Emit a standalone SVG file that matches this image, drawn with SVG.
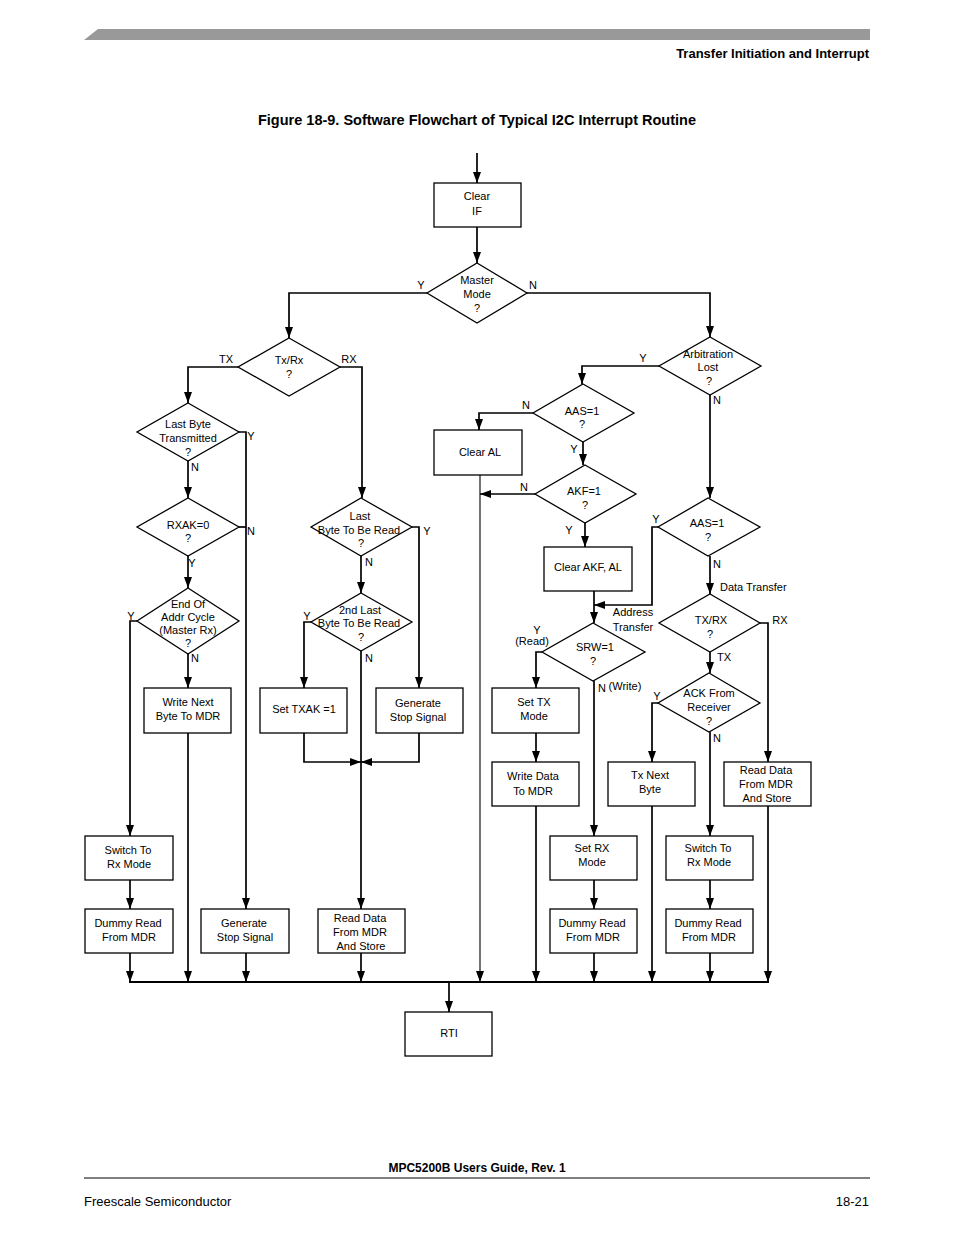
<svg xmlns="http://www.w3.org/2000/svg" width="954" height="1235" viewBox="0 0 954 1235">
<style>
.b{fill:#fff;stroke:#000;stroke-width:1.3}
.c{fill:none;stroke:#000;stroke-width:1.7}
text{font-family:"Liberation Sans",Arial,sans-serif;font-size:11px;fill:#000}
.t{text-anchor:middle}
.h{font-weight:bold;font-size:14.5px}
.hb{font-weight:bold;font-size:13px}
.f{font-size:13px}
</style>
<defs>
<marker id="a" markerWidth="12" markerHeight="8" refX="11" refY="4" orient="auto" markerUnits="userSpaceOnUse"><path d="M0,0 L11,4 L0,8 Z" fill="#000"/></marker>
</defs>
<rect width="954" height="1235" fill="#fff"/>
<polygon points="84,40 98,29 870,29 870,40" fill="#999"/>
<text x="869" y="58" class="hb" text-anchor="end">Transfer Initiation and Interrupt</text>
<text x="477" y="125" class="h t">Figure 18-9. Software Flowchart of Typical I2C Interrupt Routine</text>
<line x1="84" y1="1178" x2="870" y2="1178" stroke="#000" stroke-width="1"/>
<text x="477" y="1172" class="t" style="font-weight:bold;font-size:12px">MPC5200B Users Guide, Rev. 1</text>
<text x="84" y="1206" class="f">Freescale Semiconductor</text>
<text x="869" y="1206" class="f" text-anchor="end">18-21</text>

<g id="connectors">
<path class="c" d="M477,153 V183" marker-end="url(#a)"/>
<path class="c" d="M477,227 V263" marker-end="url(#a)"/>
<path class="c" d="M427,293 H289 V338" marker-end="url(#a)"/>
<path class="c" d="M527,293 H710 V337" marker-end="url(#a)"/>
<path class="c" d="M238,367 H188 V403" marker-end="url(#a)"/>
<path class="c" d="M239,432 H246 V909" marker-end="url(#a)"/>
<path class="c" d="M239,527 H246"/>
<path class="c" d="M188,461 V498" marker-end="url(#a)"/>
<path class="c" d="M188,556 V588" marker-end="url(#a)"/>
<path class="c" d="M137,621 H130 V836" marker-end="url(#a)"/>
<path class="c" d="M188,654 V688" marker-end="url(#a)"/>
<path class="c" d="M188,733 V982" marker-end="url(#a)"/>
<path class="c" d="M130,880 V909" marker-end="url(#a)"/>
<path class="c" d="M130,953 V982" marker-end="url(#a)"/>
<path class="c" d="M246,953 V982" marker-end="url(#a)"/>
<path class="c" d="M340,367 H362 V498" marker-end="url(#a)"/>
<path class="c" d="M412,527 H419 V688" marker-end="url(#a)"/>
<path class="c" d="M361,556 V593" marker-end="url(#a)"/>
<path class="c" d="M311,622 H304 V688" marker-end="url(#a)"/>
<path class="c" d="M361,651 V909" marker-end="url(#a)"/>
<path class="c" d="M304,733 V762 H361" marker-end="url(#a)"/>
<path class="c" d="M419,733 V762 H361" marker-end="url(#a)"/>
<path class="c" d="M361,953 V982" marker-end="url(#a)"/>
<path class="c" d="M659,366 H582 V384" marker-end="url(#a)"/>
<path class="c" d="M710,395 V498" marker-end="url(#a)"/>
<path class="c" d="M533,413 H479 V430" marker-end="url(#a)"/>
<path class="c" d="M583,442 V465" marker-end="url(#a)"/>
<path class="c" d="M480,475 V982" style="stroke-width:1.1" marker-end="url(#a)"/>
<path class="c" d="M535,494 H480" marker-end="url(#a)"/>
<path class="c" d="M585,523 V547" marker-end="url(#a)"/>
<path class="c" d="M594,591 V623" marker-end="url(#a)"/>
<path class="c" d="M658,527 H652 V605 H594" marker-end="url(#a)"/>
<path class="c" d="M710,556 V594" marker-end="url(#a)"/>
<path class="c" d="M542,652 H536 V688" marker-end="url(#a)"/>
<path class="c" d="M594,681 V836" marker-end="url(#a)"/>
<path class="c" d="M536,733 V762" marker-end="url(#a)"/>
<path class="c" d="M536,806 V982" marker-end="url(#a)"/>
<path class="c" d="M594,880 V909" marker-end="url(#a)"/>
<path class="c" d="M594,953 V982" marker-end="url(#a)"/>
<path class="c" d="M760,623 H768 V762" marker-end="url(#a)"/>
<path class="c" d="M710,652 V673" marker-end="url(#a)"/>
<path class="c" d="M658,703 H652 V762" marker-end="url(#a)"/>
<path class="c" d="M710,732 V836" marker-end="url(#a)"/>
<path class="c" d="M652,806 V982" marker-end="url(#a)"/>
<path class="c" d="M710,880 V909" marker-end="url(#a)"/>
<path class="c" d="M710,953 V982" marker-end="url(#a)"/>
<path class="c" d="M768,806 V982" marker-end="url(#a)"/>
<path class="c" d="M129,982 H769" style="stroke-width:2.2"/>
<path class="c" d="M449,982 V1012" marker-end="url(#a)"/>
</g>

<g id="labels">
<text x="421" y="289" class="t">Y</text><text x="533" y="289" class="t">N</text>
<text x="226" y="363" class="t">TX</text><text x="349" y="363" class="t">RX</text>
<text x="251" y="440" class="t">Y</text><text x="195" y="471" class="t">N</text>
<text x="251" y="535" class="t">N</text><text x="192" y="567" class="t">Y</text>
<text x="131" y="620" class="t">Y</text><text x="195" y="662" class="t">N</text>
<text x="427" y="535" class="t">Y</text><text x="369" y="566" class="t">N</text>
<text x="307" y="620" class="t">Y</text><text x="369" y="662" class="t">N</text>
<text x="643" y="362" class="t">Y</text><text x="717" y="404" class="t">N</text>
<text x="526" y="409" class="t">N</text><text x="574" y="453" class="t">Y</text>
<text x="524" y="491" class="t">N</text><text x="569" y="534" class="t">Y</text>
<text x="656" y="523" class="t">Y</text><text x="717" y="568" class="t">N</text>
<text x="720" y="591">Data Transfer</text>
<text x="633" y="616" class="t">Address</text><text x="633" y="631" class="t">Transfer</text>
<text x="780" y="624" class="t">RX</text><text x="724" y="661" class="t">TX</text>
<text x="537" y="634" class="t">Y</text><text x="532" y="645" class="t">(Read)</text>
<text x="602" y="692" class="t">N</text><text x="625" y="690" class="t">(Write)</text>
<text x="657" y="700" class="t">Y</text><text x="717" y="742" class="t">N</text>
</g>

<g id="clearIF"><rect class="b" x="434" y="183" width="87" height="44"/><text x="477" y="200" class="t">Clear</text><text x="477" y="215" class="t">IF</text></g>
<g id="masterMode"><polygon class="b" points="477,263 527,293 477,323 427,293"/><text x="477" y="284" class="t">Master</text><text x="477" y="298" class="t">Mode</text><text x="477" y="312" class="t">?</text></g>
<g id="txrx1"><polygon class="b" points="289,338 340,367 289,396 238,367"/><text x="289" y="364" class="t">Tx/Rx</text><text x="289" y="378" class="t">?</text></g>
<g id="lastByteTx"><polygon class="b" points="188,403 239,432 188,461 137,432"/><text x="188" y="428" class="t">Last Byte</text><text x="188" y="442" class="t">Transmitted</text><text x="188" y="456" class="t">?</text></g>
<g id="rxak"><polygon class="b" points="188,498 239,527 188,556 137,527"/><text x="188" y="529" class="t">RXAK=0</text><text x="188" y="542" class="t">?</text></g>
<g id="endOf"><polygon class="b" points="188,588 239,621 188,654 137,621"/><text x="188" y="608" class="t">End Of</text><text x="188" y="621" class="t">Addr Cycle</text><text x="188" y="634" class="t">(Master Rx)</text><text x="188" y="647" class="t">?</text></g>
<g id="writeNext"><rect class="b" x="144" y="688" width="87" height="45"/><text x="188" y="706" class="t">Write Next</text><text x="188" y="720" class="t">Byte To MDR</text></g>
<g id="switchRx1"><rect class="b" x="85" y="836" width="88" height="44"/><text x="128" y="854" class="t">Switch To</text><text x="129" y="868" class="t">Rx Mode</text></g>
<g id="dummy1"><rect class="b" x="85" y="909" width="88" height="44"/><text x="128" y="927" class="t">Dummy Read</text><text x="129" y="941" class="t">From MDR</text></g>
<g id="genStop1"><rect class="b" x="201" y="909" width="88" height="44"/><text x="244" y="927" class="t">Generate</text><text x="245" y="941" class="t">Stop Signal</text></g>
<g id="lastRead"><polygon class="b" points="361,498 412,527 361,556 311,527"/><text x="360" y="520" class="t">Last</text><text x="359" y="534" class="t">Byte To Be Read</text><text x="361" y="547" class="t">?</text></g>
<g id="secondLast"><polygon class="b" points="361,593 412,622 361,651 311,622"/><text x="360" y="614" class="t">2nd Last</text><text x="359" y="627" class="t">Byte To Be Read</text><text x="361" y="641" class="t">?</text></g>
<g id="setTxak"><rect class="b" x="260" y="688" width="87" height="45"/><text x="304" y="713" class="t">Set TXAK =1</text></g>
<g id="genStop2"><rect class="b" x="376" y="688" width="87" height="45"/><text x="418" y="707" class="t">Generate</text><text x="418" y="721" class="t">Stop Signal</text></g>
<g id="readData1"><rect class="b" x="318" y="909" width="87" height="44"/><text x="360" y="922" class="t">Read Data</text><text x="360" y="936" class="t">From MDR</text><text x="361" y="950" class="t">And Store</text></g>
<g id="arbLost"><polygon class="b" points="710,337 761,366 710,395 659,366"/><text x="708" y="358" class="t">Arbitration</text><text x="708" y="371" class="t">Lost</text><text x="709" y="385" class="t">?</text></g>
<g id="aas1"><polygon class="b" points="583,384 634,413 583,442 533,413"/><text x="582" y="415" class="t">AAS=1</text><text x="582" y="428" class="t">?</text></g>
<g id="clearAL"><rect class="b" x="434" y="430" width="88" height="45"/><text x="480" y="456" class="t">Clear AL</text></g>
<g id="akf"><polygon class="b" points="585,465 636,494 585,523 535,494"/><text x="584" y="495" class="t">AKF=1</text><text x="585" y="509" class="t">?</text></g>
<g id="clearAKF"><rect class="b" x="544" y="547" width="88" height="44"/><text x="588" y="571" class="t">Clear AKF, AL</text></g>
<g id="aas2"><polygon class="b" points="708,498 760,527 708,556 658,527"/><text x="707" y="527" class="t">AAS=1</text><text x="708" y="541" class="t">?</text></g>
<g id="srw"><polygon class="b" points="593,623 645,652 593,681 542,652"/><text x="595" y="651" class="t">SRW=1</text><text x="593" y="665" class="t">?</text></g>
<g id="txrx2"><polygon class="b" points="710,594 760,623 710,652 659,623"/><text x="711" y="624" class="t">TX/RX</text><text x="710" y="638" class="t">?</text></g>
<g id="ackFrom"><polygon class="b" points="709,673 760,703 709,732 658,703"/><text x="709" y="697" class="t">ACK From</text><text x="709" y="711" class="t">Receiver</text><text x="709" y="725" class="t">?</text></g>
<g id="setTxMode"><rect class="b" x="492" y="688" width="87" height="45"/><text x="534" y="706" class="t">Set TX</text><text x="534" y="720" class="t">Mode</text></g>
<g id="writeData"><rect class="b" x="492" y="762" width="87" height="44"/><text x="533" y="780" class="t">Write Data</text><text x="533" y="795" class="t">To MDR</text></g>
<g id="txNext"><rect class="b" x="608" y="762" width="87" height="44"/><text x="650" y="779" class="t">Tx Next</text><text x="650" y="793" class="t">Byte</text></g>
<g id="readData2"><rect class="b" x="724" y="762" width="87" height="44"/><text x="766" y="774" class="t">Read Data</text><text x="766" y="788" class="t">From MDR</text><text x="767" y="802" class="t">And Store</text></g>
<g id="setRxMode"><rect class="b" x="550" y="836" width="87" height="44"/><text x="592" y="852" class="t">Set RX</text><text x="592" y="866" class="t">Mode</text></g>
<g id="switchRx2"><rect class="b" x="666" y="836" width="87" height="44"/><text x="708" y="852" class="t">Switch To</text><text x="709" y="866" class="t">Rx Mode</text></g>
<g id="dummy2"><rect class="b" x="550" y="909" width="87" height="44"/><text x="592" y="927" class="t">Dummy Read</text><text x="593" y="941" class="t">From MDR</text></g>
<g id="dummy3"><rect class="b" x="666" y="909" width="87" height="44"/><text x="708" y="927" class="t">Dummy Read</text><text x="709" y="941" class="t">From MDR</text></g>
<g id="rti"><rect class="b" x="405" y="1012" width="87" height="44"/><text x="449" y="1037" class="t">RTI</text></g>
</svg>
